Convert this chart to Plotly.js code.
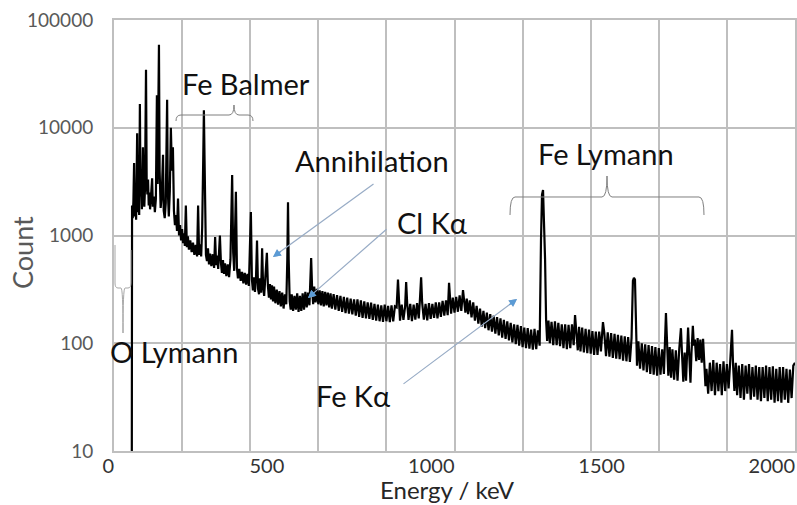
<!DOCTYPE html>
<html><head><meta charset="utf-8">
<script src="https://cdn.plot.ly/plotly-3.0.1.min.js"></script>
<style>html,body{margin:0;padding:0;background:#fff}#chart{width:797px;height:505px}</style>
</head><body><div id="chart"></div>
<script>
// ---- data (energy in keV, counts) ----
const energyKeV = [
52,53,55,57,59,61,63,65,68,70,
72,74,76,78,80,82,85,87,89,91,
94,96,98,100,102,104,106,109,112,114,
117,120,123,126,128,132,134,137,140,144,
146,149,152,156,158,161,164,167,170,173,
176,179,182,185,188,191,194,197,200,203,
206,208,211,214,217,220,224,228,232,236,
240,244,247,250,253,256,259,262,264,266,
268,270,273,276,279,282,286,290,294,297,
300,303,306,311,314,317,320,323,326,330,
334,338,342,347,350,353,358,361,364,368,
372,376,380,384,388,392,396,402,405,408,
411,414,417,420,423,426,429,432,435,438,
441,444,449,452,455,458,461,464,467,470,
474,478,482,486,490,494,498,502,506,509,
511,513,516,519,522,526,530,534,538,542,
546,550,554,558,562,566,570,574,576,579,
582,585,588,592,596,600,604,608,612,616,
620,624,628,632,636,640,645,650,655,660,
665,670,675,680,685,690,695,700,705,710,
715,720,725,730,735,740,745,750,755,760,
765,770,775,780,785,790,795,800,805,810,
815,820,825,830,834,837,840,845,850,855,
858,861,865,870,875,880,885,890,895,898,
902,905,910,915,920,925,930,935,940,945,
950,955,960,965,970,975,980,984,987,990,
995,1000,1005,1010,1015,1020,1025,1028,1032,1036,
1040,1045,1050,1055,1060,1065,1070,1075,1080,1085,
1090,1095,1100,1105,1110,1115,1120,1125,1130,1135,
1140,1145,1150,1155,1160,1165,1170,1175,1180,1185,
1190,1195,1200,1205,1210,1215,1220,1225,1230,1235,
1240,1245,1250,1254,1257,1260,1263,1266,1269,1272,
1276,1280,1285,1290,1295,1300,1305,1310,1315,1320,
1325,1330,1335,1340,1345,1350,1354,1358,1362,1366,
1370,1375,1380,1385,1390,1395,1400,1405,1410,1415,
1420,1425,1430,1436,1440,1445,1450,1455,1460,1465,
1470,1475,1480,1485,1490,1495,1500,1505,1510,1515,
1520,1524,1527,1530,1533,1536,1540,1545,1550,1555,
1560,1565,1570,1575,1580,1585,1590,1595,1600,1605,
1610,1615,1621,1624,1628,1632,1636,1640,1645,1650,
1655,1660,1665,1668,1672,1676,1680,1686,1689,1693,
1696,1700,1703,1706,1710,1714,1718,1722,1726,1730,
1734,1737,1740,1745,1750,1755,1760,1765,1770,1775,
1780,1785,1790,1795,1800,1805,1810,1815,1818,1822,
1826,1830,1835,1840,1845,1850,1855,1860,1865,1870,
1875,1880,1885,1890,1895,1900,1905,1910,1915,1920,
1925,1930,1935,1940,1945,1950,1955,1960,1965,1970,
1975,1980,1985,1990,1995,2000
];
const counts = [
0.5,1900,1450,2100,4700,1500,1900,1400,8900,1650,
2200,1550,16600,2300,3000,1750,6600,2400,1850,2700,
34600,3100,2400,3300,1900,2500,1750,2400,3400,1850,
2300,1650,2200,20000,3000,59000,4000,1800,2300,5600,
1700,1450,2000,18200,2600,1500,2600,10000,4000,6600,
1700,1250,1550,1100,2200,1000,1250,900,1150,850,
1050,800,1900,780,980,740,900,700,860,660,
820,640,1900,660,830,640,1200,5000,14500,5000,
1500,660,580,760,540,680,520,670,500,970,
530,650,490,1000,560,450,590,440,550,420,
540,410,600,3640,700,470,2540,500,400,490,
380,460,360,450,350,440,340,1650,390,310,
410,300,400,900,320,285,400,295,760,330,
275,370,690,340,265,355,255,345,245,335,
235,315,228,305,220,295,210,285,230,600,
2040,600,245,205,285,200,275,205,290,195,
275,200,290,205,300,215,295,225,350,617,
310,230,335,240,320,230,310,225,305,220,
300,225,295,215,290,210,285,205,280,200,
275,195,270,190,265,188,260,185,255,180,
255,176,250,172,245,170,240,168,238,165,
232,162,228,160,225,158,228,160,222,157,
225,160,220,215,390,220,162,228,165,220,
370,235,165,232,160,228,166,236,170,240,
410,238,166,232,163,236,168,232,172,240,
170,240,176,248,180,250,182,363,255,188,
265,192,270,196,278,200,312,265,192,260,
186,250,174,240,162,222,152,210,143,200,
138,192,132,186,128,180,123,175,118,170,
113,165,110,160,106,155,102,150,98,148,
95,144,92,140,90,138,89,134,87,136,
88,132,95,900,2400,2640,1500,600,165,105,
162,100,158,96,160,96,155,94,150,90,
150,88,148,90,150,96,183,130,86,142,
84,140,82,136,81,134,80,130,78,128,
78,128,84,157,124,76,126,75,124,73,
122,72,120,71,118,69,116,68,114,67,
112,380,405,390,112,62,104,58,100,56,
98,54,96,52,94,51,92,50,90,51,
88,52,191,88,50,92,48,88,46,86,
45,88,138,82,44,82,45,140,78,43,
82,145,95,108,68,112,70,108,66,110,
62,40,58,34,66,36,70,33,66,36,
64,33,68,36,64,38,70,133,64,36,
66,33,62,31,64,30,62,34,64,30,
60,32,62,30,60,29,60,31,62,29,
60,30,61,28,58,29,60,28,60,30,
58,28,57,31,62,66
];
const xTickValues = [0, 500, 1000, 1500, 2000];
const xTickLabels = ['0', '500', '1000', '1500', '2000'];
const yTickValues = [10, 100, 1000, 10000, 100000];
const yTickLabels = ['10', '100', '1000', '10000', '100000'];
const xTitle = 'Energy / keV';
const yTitle = 'Count';
const labelTexts = ['Fe Balmer', 'Annihilation', 'Cl Kα', 'Fe Lymann', 'Fe Kα', 'O Lymann'];

// ---- layout geometry (pixels of the 797x505 frame) ----
const W = 797, H = 505, L = 114, R = 795, T = 20, B = 451;
const px = x => (x - L) / (R - L);
const py = y => (B - y) / (B - T);
const P = (x, y) => px(x).toFixed(5) + ',' + py(y).toFixed(5);
function braceDown(x0, x1, xc, yb, ye, yt) {
  return 'M' + P(x0, ye) + ' Q' + P(x0, yb) + ' ' + P(x0 + 5, yb) +
    ' L' + P(xc - 5, yb) + ' Q' + P(xc, yb) + ' ' + P(xc, yt) +
    ' Q' + P(xc, yb) + ' ' + P(xc + 5, yb) + ' L' + P(x1 - 5, yb) +
    ' Q' + P(x1, yb) + ' ' + P(x1, ye);
}
const oBracket = 'M' + P(115, 245) + ' L' + P(115, 283) + ' Q' + P(115, 288) + ' ' + P(118, 288) +
  ' L' + P(121, 288) + ' Q' + P(123, 288) + ' ' + P(123, 333) + ' Q' + P(123, 288) + ' ' + P(125, 288) +
  ' L' + P(128, 288) + ' Q' + P(131, 288) + ' ' + P(131, 283) + ' L' + P(131, 250);

const FONT = 'Lato, "Open Sans", sans-serif';
const labelFont = {family: FONT, size: 29, color: '#111111'};
function textAnn(t, x, y) {
  return {text: t, x: px(x), y: py(y), xref: 'paper', yref: 'paper', showarrow: false,
    xanchor: 'center', yanchor: 'middle', font: labelFont};
}
function arrowAnn(hx, hy, tx, ty, color, scale) {
  const s = scale || 1;
  return {text: '', x: px(hx), y: py(hy), xref: 'paper', yref: 'paper', showarrow: true,
    ax: (tx - hx) * s, ay: (ty - hy) * s, arrowhead: 2, arrowsize: 1.3, arrowwidth: 1.2,
    arrowcolor: color, standoff: 0, startstandoff: 0};
}

const traces = [
  {type: 'scatter', mode: 'lines', x: energyKeV, y: counts, xaxis: 'x', yaxis: 'y',
   line: {color: '#000000', width: 2.2}, hoverinfo: 'skip'},
  {type: 'scatter', mode: 'lines', x: [], y: [], xaxis: 'x2', yaxis: 'y', hoverinfo: 'skip'}
];

const layout = {
  width: W, height: H, showlegend: false, hovermode: false,
  paper_bgcolor: '#ffffff', plot_bgcolor: '#ffffff',
  margin: {l: L, r: W - R, t: T, b: H - B},
  font: {family: FONT},
  xaxis: {
    range: [0, 2000], dtick: 200, tick0: 0, showgrid: true, gridcolor: '#bfbfbf', gridwidth: 2,
    showticklabels: false, ticks: '', zeroline: false,
    showline: true, mirror: true, linecolor: '#bfbfbf', linewidth: 2
  },
  xaxis2: {
    overlaying: 'x', anchor: 'y', side: 'bottom', range: [0, 2000],
    tickmode: 'array', tickvals: xTickValues, ticktext: xTickLabels,
    ticklabelposition: 'outside left', ticks: '', showgrid: false, zeroline: false, showline: false,
    tickfont: {family: FONT, size: 20, color: '#333333'}, ticklabelstandoff: 1
  },
  yaxis: {
    type: 'log', range: [1, 5], tickmode: 'array', tickvals: yTickValues, ticktext: yTickLabels,
    showgrid: true, gridcolor: '#bfbfbf', gridwidth: 2, ticks: '', zeroline: false,
    showline: true, mirror: true, linecolor: '#bfbfbf', linewidth: 2,
    tickfont: {family: FONT, size: 19, color: '#595959'}, ticklabelstandoff: 15
  },
  shapes: [
    {type: 'path', xref: 'paper', yref: 'paper', path: braceDown(176, 253, 234, 115, 121, 105), line: {color: '#7f7f7f', width: 1}},
    {type: 'path', xref: 'paper', yref: 'paper', path: braceDown(510, 704, 607, 197, 215, 176), line: {color: '#7f7f7f', width: 1}},
    {type: 'path', xref: 'paper', yref: 'paper', path: oBracket, line: {color: '#a6a6a6', width: 1}}
  ],
  annotations: [
    textAnn(labelTexts[0], 246, 83),
    textAnn(labelTexts[1], 372, 160),
    textAnn(labelTexts[2], 432, 223),
    textAnn(labelTexts[3], 606, 153),
    textAnn(labelTexts[4], 353, 395),
    textAnn(labelTexts[5], 174, 351),
    {text: yTitle, x: px(22), y: py(253), xref: 'paper', yref: 'paper', showarrow: false,
     textangle: -90, xanchor: 'center', yanchor: 'middle', font: {family: FONT, size: 27, color: '#595959'}},
    {text: xTitle, x: px(447), y: py(505), xref: 'paper', yref: 'paper', showarrow: false,
     xanchor: 'center', yanchor: 'bottom', borderpad: 0, font: {family: FONT, size: 24, color: '#262626'}},
    arrowAnn(273, 257, 375, 183, '#98acc6'),
    arrowAnn(308, 298, 388, 228, '#98acc6'),
    arrowAnn(517, 299, 402, 385, '#98acc6'),
    arrowAnn(273, 257, 375, 183, '#5b9bd5', 0.09),
    arrowAnn(308, 298, 388, 228, '#5b9bd5', 0.1),
    arrowAnn(517, 299, 402, 385, '#5b9bd5', 0.08)
  ]
};

Plotly.newPlot('chart', traces, layout, {staticPlot: true, displayModeBar: false});
</script>
</body></html>
